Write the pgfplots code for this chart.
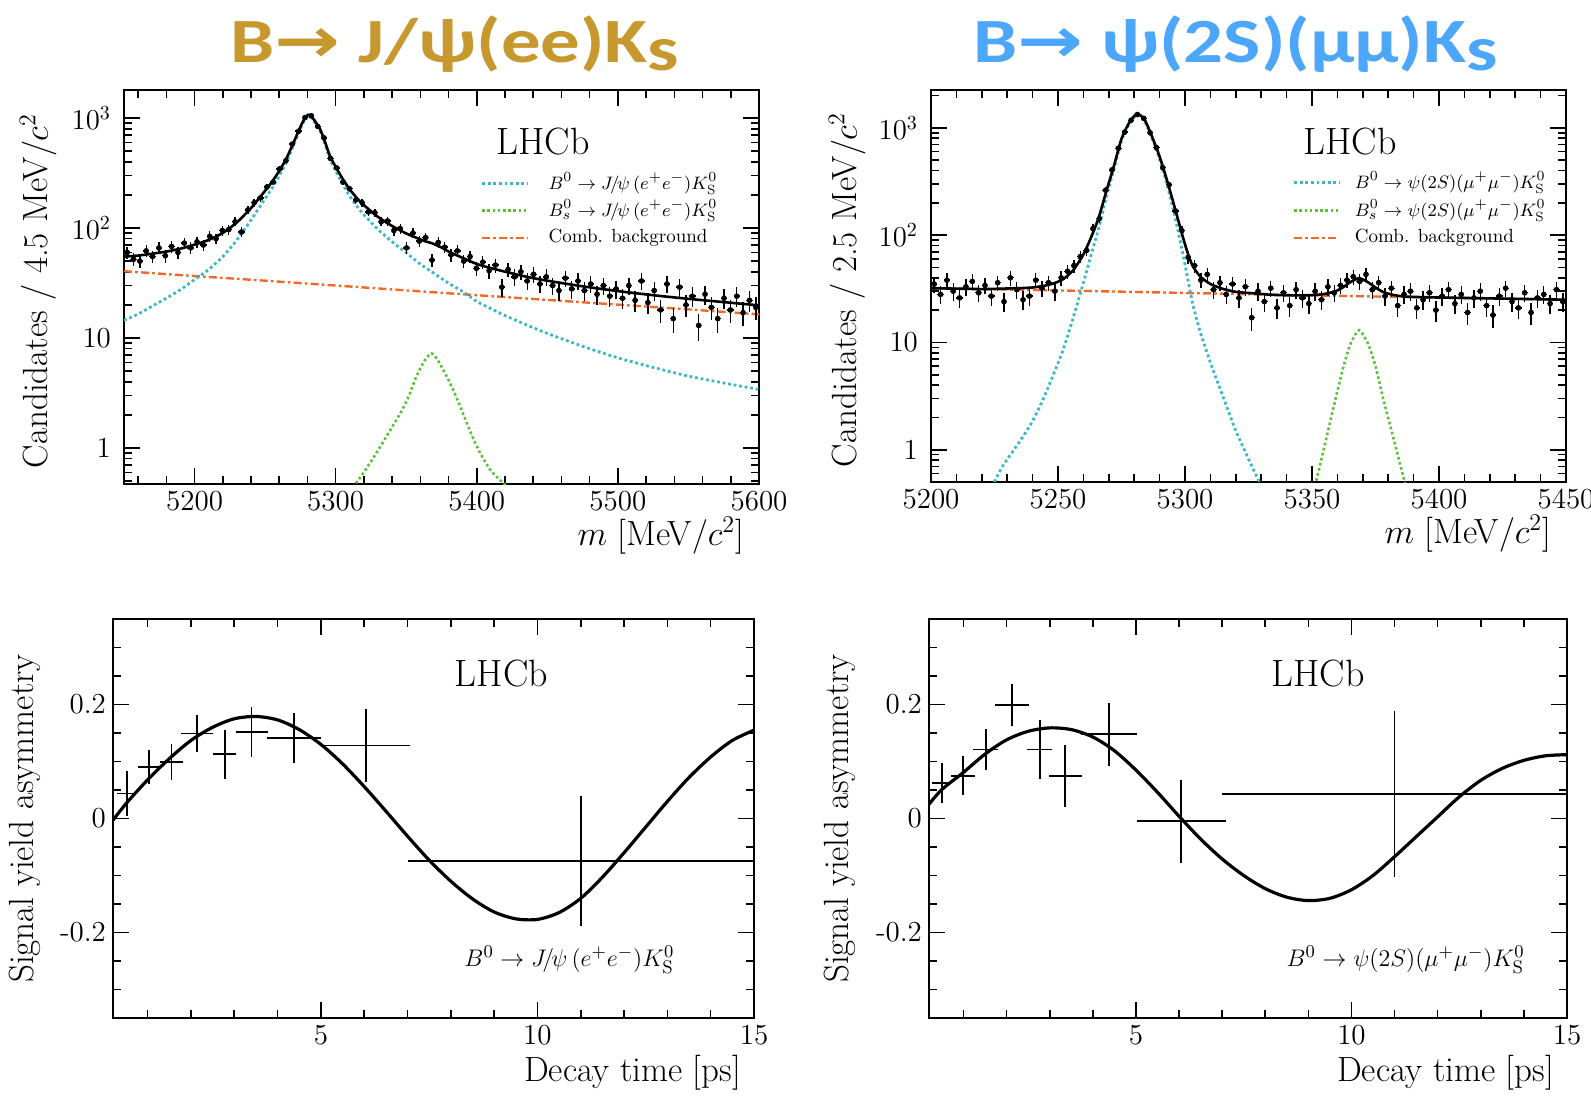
\documentclass[border=0pt]{standalone}
\usepackage{fontspec}
\usepackage{graphicx}
\usepackage{pgfplots}
\pgfplotsset{compat=1.18}

\newfontfamily\titlefont{Carlito}
\newfontfamily\arrowfont{DejaVu Sans}

\definecolor{titlegold}{RGB}{198,152,46}
\definecolor{titleblue}{RGB}{76,166,250}
\definecolor{sigcyan}{RGB}{60,185,200}
\definecolor{bsgreen}{RGB}{95,190,60}
\definecolor{combor}{RGB}{240,105,40}

\pgfplotsset{
  lhcbaxis/.style={
    scale only axis,
    axis line style={line width=1.1pt},
    every tick/.style={black, line width=0.8pt},
    major tick length=8pt,
    minor tick length=4pt,
    tick label style={font=\fontsize{14.5}{17}\selectfont},
    label style={font=\fontsize{17.5}{21}\selectfont},
    xlabel style={at={(axis description cs:1,0)}, anchor=north east},
  },
  fitline/.style={black, line width=1.3pt, smooth, tension=0.4, no markers},
  sigline/.style={sigcyan, line width=1.4pt, dash pattern=on 1.4pt off 1.4pt, smooth, tension=0.4, no markers},
  bsline/.style={bsgreen, line width=1.3pt, dash pattern=on 1.3pt off 1.3pt, smooth, tension=0.4, no markers},
  combline/.style={combor, line width=1.2pt, dash pattern=on 4pt off 1.6pt on 1.3pt off 1.6pt, smooth, no markers},
  asymfit/.style={black, line width=1.6pt, smooth, no markers},
}
\newcommand{\legfont}{\fontsize{9.5}{11}\selectfont}
\newcommand{\lhcbfont}{\fontsize{19}{22}\selectfont}
\newcommand{\decfont}{\fontsize{13}{15}\selectfont}

\begin{document}
\begin{tikzpicture}
\path[use as bounding box] (0,0) rectangle (795.5pt,-548.5pt);

% ---------- titles ----------
\node[anchor=base, text=titlegold, inner sep=0pt] at (227.5pt,-31.5pt)
  {\scalebox{1.25}[1]{\fontsize{31.5}{34}\selectfont\titlefont\bfseries B{\arrowfont\bfseries →}\ J/ψ(ee)K\raisebox{-4pt}{s}}};
\node[anchor=base, text=titleblue, inner sep=0pt] at (617.75pt,-31.5pt)
  {\scalebox{1.25}[1]{\fontsize{31.5}{34}\selectfont\titlefont\bfseries B{\arrowfont\bfseries →}\ ψ(2S)(μμ)K\raisebox{-4pt}{s}}};

% ---------- B0 -> J/psi(ee) KS mass fit ----------
\begin{axis}[lhcbaxis,
  at={(62pt,-242pt)}, anchor=south west, width=317.5pt, height=197pt,
  xmin=5150, xmax=5600, ymode=log, ymin=0.47, ymax=1800,
  xtick={5200,5300,5400,5500,5600}, xticklabels={5200,5300,5400,5500,5600},
  minor xtick={5160,5180,...,5580},
  ytick={1,10,100,1000}, yticklabels={1,10,$10^2$,$10^3$},
  minor ytick={0.5,0.6,0.7,0.8,0.9,2,3,...,9,20,30,...,90,200,300,...,900},
  yticklabel style={xshift=-3pt},
  xlabel={$m$ [MeV$/c^2$]}, xlabel style={yshift=-13pt, xshift=-4pt},
  ylabel={Candidates / 4.5 MeV$/c^2$},
  ylabel style={at={(axis description cs:-0.135,0.49)}, anchor=center},
]
\addplot[combline] table[row sep=\\] {
5150 40.5\\ 5200 36.6\\ 5250 33.2\\ 5300 30.0\\ 5350 27.1\\ 5400 24.5\\ 5450 22.2\\ 5500 20.1\\ 5550 18.2\\ 5600 16.4\\
};
\addplot[sigline] table[row sep=\\] {
5150 14.5\\ 5160 16.5\\ 5170 19.5\\ 5180 23\\ 5190 27.5\\ 5200 34\\ 5210 42\\ 5220 55\\ 5230 78\\ 5240 118\\
5245 148\\ 5250 185\\ 5255 232\\ 5260 298\\ 5265 395\\ 5270 560\\ 5275 800\\ 5278 960\\ 5280.5 1040\\ 5283 1000\\
5286 880\\ 5289 760\\ 5292 600\\ 5296 420\\ 5300 330\\ 5305 250\\ 5310 195\\ 5315 158\\ 5320 132\\ 5330 97\\
5340 75\\ 5350 59.5\\ 5360 47\\ 5370 38.5\\ 5380 31.5\\ 5390 26.5\\ 5400 21.5\\ 5410 18.5\\ 5420 16\\ 5435 13.2\\
5450 11\\ 5475 8.4\\ 5500 6.6\\ 5525 5.4\\ 5550 4.5\\ 5575 3.9\\ 5600 3.4\\
};
\addplot[bsline] table[row sep=\\] {
5310 0.4\\ 5314 0.47\\ 5320 0.6\\ 5330 0.95\\ 5340 1.55\\ 5347 2.2\\ 5352 3.0\\ 5356 4.1\\ 5360 5.3\\ 5364 6.5\\
5368 7.25\\ 5372 6.4\\ 5376 5.2\\ 5381 3.9\\ 5386 2.8\\ 5391 1.95\\ 5396 1.35\\ 5402 0.92\\ 5410 0.62\\ 5421 0.45\\ 5426 0.38\\
};
\addplot[only marks, mark=*, mark size=1.2pt, black,
  error bars/.cd, y dir=both, y explicit, x dir=both, x fixed=2.25,
  error mark=none, error bar style={line width=0.7pt}]
  table[row sep=\\, x index=0, y index=1, y error expr={sqrt(\thisrowno{1})}] {
5152.25 60\\ 5156.75 52\\ 5161.25 50\\ 5165.75 62\\ 5170.25 55\\ 5174.75 66\\ 5179.25 56\\ 5183.75 68\\ 5188.25 60\\ 5192.75 73\\
5197.25 66\\ 5201.75 75\\ 5206.25 70\\ 5210.75 84\\ 5215.25 80\\ 5219.75 95\\ 5224.25 97\\ 5228.75 114\\ 5233.25 92\\ 5237.75 146\\
5242.25 170\\ 5246.75 188\\ 5251.25 236\\ 5255.75 262\\ 5260.25 345\\ 5264.75 410\\ 5269.25 580\\ 5273.75 760\\ 5278.25 1010\\ 5282.75 1050\\
5287.25 840\\ 5291.75 660\\ 5296.25 430\\ 5300.75 352\\ 5305.25 262\\ 5309.75 228\\ 5314.25 180\\ 5318.75 170\\ 5323.25 140\\ 5327.75 138\\
5332.25 114\\ 5336.75 116\\ 5341.25 95\\ 5345.75 99\\ 5350.25 66\\ 5354.75 90\\ 5359.25 76\\ 5363.75 82\\ 5368.25 51\\ 5372.75 74\\
5377.25 67\\ 5381.75 57\\ 5386.25 62\\ 5390.75 50\\ 5395.25 55\\ 5399.75 43\\ 5404.25 49\\ 5408.75 41\\ 5413.25 46\\ 5417.75 29\\
5422.25 42\\ 5426.75 36\\ 5431.25 40\\ 5435.75 33\\ 5440.25 38\\ 5444.75 31\\ 5449.25 36\\ 5453.75 30\\ 5458.25 27\\ 5462.75 35\\
5467.25 28\\ 5471.75 33\\ 5476.25 27\\ 5480.75 31\\ 5485.25 25\\ 5489.75 30\\ 5494.25 24\\ 5498.75 28\\ 5503.25 23\\ 5507.75 30\\
5512.25 22\\ 5516.75 33\\ 5521.25 21\\ 5525.75 27\\ 5530.25 18\\ 5534.75 31\\ 5539.25 15\\ 5543.75 29\\ 5548.25 20\\ 5552.75 24\\
5557.25 13\\ 5561.75 25\\ 5566.25 19\\ 5570.75 15\\ 5575.25 23\\ 5579.75 18\\ 5584.25 24\\ 5588.75 17\\ 5593.25 22\\ 5597.75 19\\
};
\addplot[fitline] table[row sep=\\] {
5150 55\\ 5160 56.2\\ 5170 58.4\\ 5180 61.1\\ 5190 64.9\\ 5200 70.6\\ 5210 77.9\\ 5220 90.2\\ 5230 112.5\\ 5240 151.8\\
5245 181.5\\ 5250 218.2\\ 5255 264.8\\ 5260 330.5\\ 5265 427.2\\ 5270 591.8\\ 5275 831.5\\ 5278 991.3\\ 5280.5 1071\\ 5283 1031\\
5286 910.8\\ 5289 790.7\\ 5292 630.5\\ 5296 450.2\\ 5300 360\\ 5305 279.7\\ 5310 224.4\\ 5315 187.6\\ 5320 161.4\\ 5330 126.2\\
5340 104.3\\ 5350 89.3\\ 5360 78.9\\ 5364 75.4\\ 5368 72.9\\ 5372 69.4\\ 5376 65.5\\ 5380 61.1\\ 5390 53.5\\ 5400 47.1\\
5410 43.2\\ 5420 40.1\\ 5435 36.1\\ 5450 33.2\\ 5475 29.5\\ 5500 26.7\\ 5525 24.5\\ 5550 22.7\\ 5575 21.2\\ 5600 19.8\\
};
\node[font=\lhcbfont] at (axis description cs:0.66,0.868) {LHCb};
\draw[sigcyan, line width=1.4pt, dash pattern=on 1.4pt off 1.4pt] (axis description cs:0.564,0.763) -- (axis description cs:0.636,0.763);
\draw[bsgreen, line width=1.3pt, dash pattern=on 1.3pt off 1.3pt] (axis description cs:0.564,0.694) -- (axis description cs:0.636,0.694);
\draw[combor, line width=1.2pt, dash pattern=on 4pt off 1.6pt on 1.3pt off 1.6pt] (axis description cs:0.564,0.625) -- (axis description cs:0.636,0.625);
\node[anchor=west, font=\legfont, inner sep=0pt] at (axis description cs:0.668,0.763) {$B^0\to J\mskip-3mu/\mskip-2mu\psi\,(e^+e^-)K^0_{\mathrm{S}}$};
\node[anchor=west, font=\legfont, inner sep=0pt] at (axis description cs:0.668,0.694) {$B^0_s\to J\mskip-3mu/\mskip-2mu\psi\,(e^+e^-)K^0_{\mathrm{S}}$};
\node[anchor=west, font=\legfont, inner sep=0pt] at (axis description cs:0.668,0.625) {Comb. background};
\end{axis}

% ---------- B0 -> psi(2S)(mumu) KS mass fit ----------
\begin{axis}[lhcbaxis,
  at={(465.5pt,-241pt)}, anchor=south west, width=317.5pt, height=196pt,
  xmin=5200, xmax=5450, ymode=log, ymin=0.5, ymax=2250,
  xtick={5200,5250,5300,5350,5400,5450}, xticklabels={5200,5250,5300,5350,5400,5450},
  minor xtick={5210,5220,...,5440},
  ytick={1,10,100,1000}, yticklabels={1,10,$10^2$,$10^3$},
  minor ytick={0.6,0.7,0.8,0.9,2,3,...,9,20,30,...,90,200,300,...,900,2000},
  yticklabel style={xshift=-3pt},
  xlabel={$m$ [MeV$/c^2$]}, xlabel style={yshift=-13pt, xshift=-4pt},
  ylabel={Candidates / 2.5 MeV$/c^2$},
  ylabel style={at={(axis description cs:-0.132,0.49)}, anchor=center},
]
\addplot[combline] table[row sep=\\] {
5200 32\\ 5250 30.5\\ 5300 28.9\\ 5350 27.4\\ 5400 26.2\\ 5450 25.0\\
};
\addplot[sigline] table[row sep=\\] {
5224 0.45\\ 5228 0.69\\ 5232 0.95\\ 5236 1.3\\ 5240 1.85\\ 5244 2.9\\ 5248 4.9\\ 5252 8.5\\ 5256 17\\ 5260 36\\
5263 65\\ 5266 115\\ 5269 225\\ 5272 410\\ 5275 760\\ 5278 1080\\ 5281 1320\\ 5284 1170\\ 5287 800\\ 5290 510\\
5293 290\\ 5296 150\\ 5299 70\\ 5301 40\\ 5303 23\\ 5306 12.5\\ 5310 6.5\\ 5315 3.1\\ 5320 1.5\\ 5325 0.82\\ 5329 0.52\\ 5333 0.38\\
};
\addplot[bsline] table[row sep=\\] {
5350 0.42\\ 5351.5 0.5\\ 5355 1.1\\ 5359 2.8\\ 5362 5.5\\ 5365 9.5\\ 5368.5 13\\ 5372 9.8\\ 5375 6.0\\ 5378 3.0\\ 5382 1.3\\ 5386.5 0.5\\ 5388 0.38\\
};
\addplot[only marks, mark=*, mark size=1.2pt, black,
  error bars/.cd, y dir=both, y explicit, x dir=both, x fixed=1.25,
  error mark=none, error bar style={line width=0.7pt}]
  table[row sep=\\, x index=0, y index=1, y error expr={sqrt(\thisrowno{1})}] {
5201.25 35\\ 5203.75 28\\ 5206.25 38\\ 5208.75 30\\ 5211.25 26\\ 5213.75 33\\ 5216.25 37\\ 5218.75 29\\ 5221.25 34\\ 5223.75 27\\
5226.25 36\\ 5228.75 24\\ 5231.25 40\\ 5233.75 31\\ 5236.25 25\\ 5238.75 27\\ 5241.25 38\\ 5243.75 32\\ 5246.25 36\\ 5248.75 30\\
5251.25 40\\ 5253.75 46\\ 5256.25 52\\ 5258.75 63\\ 5261.25 72\\ 5263.75 115\\ 5266.25 142\\ 5268.75 262\\ 5271.25 405\\ 5273.75 645\\
5276.25 910\\ 5278.75 1175\\ 5281.25 1330\\ 5283.75 1225\\ 5286.25 900\\ 5288.75 655\\ 5291.25 425\\ 5293.75 295\\ 5296.25 168\\ 5298.75 110\\
5301.25 62\\ 5303.75 52\\ 5306.25 38\\ 5308.75 43\\ 5311.25 31\\ 5313.75 36\\ 5316.25 28\\ 5318.75 35\\ 5321.25 26\\ 5323.75 33\\
5326.25 17\\ 5328.75 30\\ 5331.25 24\\ 5333.75 32\\ 5336.25 21\\ 5338.75 29\\ 5341.25 22\\ 5343.75 31\\ 5346.25 26\\ 5348.75 23\\
5351.25 30\\ 5353.75 25\\ 5356.25 33\\ 5358.75 29\\ 5361.25 34\\ 5363.75 38\\ 5366.25 41\\ 5368.75 37\\ 5371.25 43\\ 5373.75 31\\
5376.25 36\\ 5378.75 27\\ 5381.25 32\\ 5383.75 22\\ 5386.25 28\\ 5388.75 30\\ 5391.25 21\\ 5393.75 25\\ 5396.25 29\\ 5398.75 20\\
5401.25 27\\ 5403.75 31\\ 5406.25 23\\ 5408.75 28\\ 5411.25 19\\ 5413.75 26\\ 5416.25 30\\ 5418.75 22\\ 5421.25 18\\ 5423.75 27\\
5426.25 32\\ 5428.75 24\\ 5431.25 21\\ 5433.75 29\\ 5436.25 19\\ 5438.75 26\\ 5441.25 28\\ 5443.75 23\\ 5446.25 31\\ 5448.75 24\\
};
\addplot[fitline] table[row sep=\\] {
5200 32\\ 5210 31.7\\ 5220 31.4\\ 5226 31.6\\ 5232 31.9\\ 5236 32.1\\ 5240 32.5\\ 5244 33.5\\ 5248 35.3\\ 5252 38.8\\
5256 47.2\\ 5260 66\\ 5263 95\\ 5266 145\\ 5269 255\\ 5272 440\\ 5275 790\\ 5278 1110\\ 5281 1350\\ 5284 1200\\
5287 830\\ 5290 540\\ 5293 319\\ 5296 179\\ 5299 99\\ 5301 68.8\\ 5303 51.7\\ 5306 41.1\\ 5310 35\\ 5315 31.5\\
5320 29.6\\ 5325 28.9\\ 5329 28.4\\ 5335 27.7\\ 5345 27.4\\ 5351 27.7\\ 5355 28.3\\ 5359 29.8\\ 5362 32.4\\ 5365 36.3\\
5368.5 39.7\\ 5372 36.4\\ 5375 32.5\\ 5378 29.5\\ 5382 27.7\\ 5387 26.7\\ 5400 26.2\\ 5425 25.6\\ 5450 25.0\\
};
\node[font=\lhcbfont] at (axis description cs:0.66,0.868) {LHCb};
\draw[sigcyan, line width=1.4pt, dash pattern=on 1.4pt off 1.4pt] (axis description cs:0.572,0.764) -- (axis description cs:0.643,0.764);
\draw[bsgreen, line width=1.3pt, dash pattern=on 1.3pt off 1.3pt] (axis description cs:0.572,0.693) -- (axis description cs:0.643,0.693);
\draw[combor, line width=1.2pt, dash pattern=on 4pt off 1.6pt on 1.3pt off 1.6pt] (axis description cs:0.572,0.622) -- (axis description cs:0.643,0.622);
\node[anchor=west, font=\legfont, inner sep=0pt] at (axis description cs:0.667,0.764) {$B^0\to \psi(2S)(\mu^+\mu^-)K^0_{\mathrm{S}}$};
\node[anchor=west, font=\legfont, inner sep=0pt] at (axis description cs:0.667,0.693) {$B^0_s\to \psi(2S)(\mu^+\mu^-)K^0_{\mathrm{S}}$};
\node[anchor=west, font=\legfont, inner sep=0pt] at (axis description cs:0.667,0.622) {Comb. background};
\end{axis}

% ---------- asymmetry, J/psi(ee) ----------
\begin{axis}[lhcbaxis,
  at={(56.5pt,-509pt)}, anchor=south west, width=320.5pt, height=199.5pt,
  xmin=0.2, xmax=15, ymin=-0.35, ymax=0.35,
  xtick={5,10,15}, xticklabels={5,10,15},
  minor xtick={1,2,3,4,6,7,8,9,11,12,13,14},
  ytick={-0.2,0,0.2}, yticklabels={-0.2,0,0.2},
  minor ytick={-0.3,-0.25,-0.15,-0.1,-0.05,0.05,0.1,0.15,0.25,0.3},
  xlabel={Decay time [ps]}, xlabel style={yshift=-15pt, xshift=-3pt},
  ylabel={Signal yield asymmetry},
  ylabel style={at={(axis description cs:-0.137,0.5)}, anchor=center},
]
\addplot[asymfit] table[row sep=\\] {
0.2 -0.003\\ 0.5 0.026\\ 1.0 0.068\\ 1.5 0.105\\ 2.0 0.137\\ 2.5 0.160\\ 3.0 0.175\\ 3.5 0.179\\ 4.0 0.173\\ 4.5 0.156\\
5.0 0.130\\ 5.5 0.096\\ 6.0 0.056\\ 6.5 0.013\\ 7.0 -0.031\\ 7.5 -0.073\\ 8.0 -0.110\\ 8.5 -0.141\\ 9.0 -0.164\\ 9.5 -0.176\\
10.0 -0.177\\ 10.5 -0.165\\ 11.0 -0.140\\ 11.5 -0.103\\ 12.0 -0.060\\ 12.5 -0.015\\ 13.0 0.030\\ 13.5 0.072\\ 14.0 0.108\\ 14.5 0.137\\ 15.0 0.155\\
};
\addplot[only marks, mark=*, mark size=0.3pt, black,
  error bars/.cd, y dir=both, y explicit, x dir=both, x explicit,
  error mark=none, error bar style={line width=0.9pt}]
  table[row sep=\\, x=t, y=a, x error=et, y error=ea] {
t a et ea\\
0.52 0.044 0.23 0.040\\
1.03 0.090 0.26 0.030\\
1.55 0.099 0.27 0.032\\
2.14 0.149 0.38 0.032\\
2.78 0.113 0.27 0.043\\
3.40 0.152 0.37 0.044\\
4.38 0.141 0.63 0.044\\
6.04 0.128 1.02 0.064\\
11.0 -0.075 4.0 0.114\\
};
\node[font=\lhcbfont] at (axis description cs:0.606,0.864) {LHCb};
\node[font=\decfont] at (axis description cs:0.712,0.146) {$B^0\to J\mskip-3mu/\mskip-2mu\psi\,(e^+e^-)K^0_{\mathrm{S}}$};
\end{axis}

% ---------- asymmetry, psi(2S)(mumu) ----------
\begin{axis}[lhcbaxis,
  at={(464.5pt,-509pt)}, anchor=south west, width=319pt, height=199.5pt,
  xmin=0.2, xmax=15, ymin=-0.35, ymax=0.35,
  xtick={5,10,15}, xticklabels={5,10,15},
  minor xtick={1,2,3,4,6,7,8,9,11,12,13,14},
  ytick={-0.2,0,0.2}, yticklabels={-0.2,0,0.2},
  minor ytick={-0.3,-0.25,-0.15,-0.1,-0.05,0.05,0.1,0.15,0.25,0.3},
  xlabel={Decay time [ps]}, xlabel style={yshift=-15pt, xshift=-3pt},
  ylabel={Signal yield asymmetry},
  ylabel style={at={(axis description cs:-0.139,0.5)}, anchor=center},
]
\addplot[asymfit] table[row sep=\\] {
0.2 0.025\\ 0.5 0.051\\ 1.0 0.081\\ 1.5 0.113\\ 2.0 0.138\\ 2.5 0.153\\ 3.0 0.159\\ 3.5 0.156\\ 4.0 0.143\\ 4.5 0.119\\
5.0 0.085\\ 5.5 0.046\\ 6.0 0.004\\ 6.5 -0.036\\ 7.0 -0.071\\ 7.5 -0.100\\ 8.0 -0.123\\ 8.5 -0.138\\ 9.0 -0.144\\ 9.5 -0.140\\
10.0 -0.125\\ 10.5 -0.100\\ 11.0 -0.067\\ 11.5 -0.032\\ 12.0 0.003\\ 12.5 0.038\\ 13.0 0.067\\ 13.5 0.088\\ 14.0 0.102\\ 14.5 0.110\\ 15.0 0.112\\
};
\addplot[only marks, mark=*, mark size=0.3pt, black,
  error bars/.cd, y dir=both, y explicit, x dir=both, x explicit,
  error mark=none, error bar style={line width=0.9pt}]
  table[row sep=\\, x=t, y=a, x error=et, y error=ea] {
t a et ea\\
0.50 0.063 0.22 0.035\\
0.99 0.075 0.27 0.034\\
1.52 0.121 0.29 0.036\\
2.13 0.199 0.39 0.037\\
2.77 0.121 0.29 0.052\\
3.36 0.075 0.38 0.054\\
4.37 0.148 0.65 0.055\\
6.05 -0.005 1.03 0.073\\
11.0 0.043 4.0 0.145\\
};
\node[font=\lhcbfont] at (axis description cs:0.610,0.864) {LHCb};
\node[font=\decfont] at (axis description cs:0.747,0.146) {$B^0\to \psi(2S)(\mu^+\mu^-)K^0_{\mathrm{S}}$};
\end{axis}
\end{tikzpicture}
\end{document}
